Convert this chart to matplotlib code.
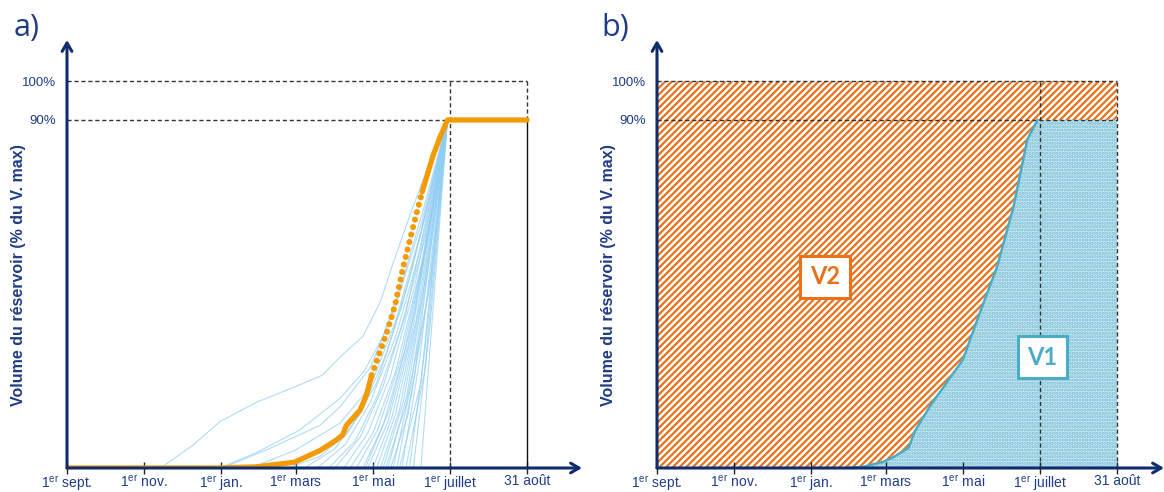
import matplotlib
matplotlib.use("Agg")
import matplotlib.pyplot as plt
import numpy as np

plt.rcParams['font.family'] = ['Liberation Sans', 'DejaVu Sans']
plt.rcParams['mathtext.fontset'] = 'custom'
plt.rcParams['mathtext.rm'] = 'Liberation Sans'
plt.rcParams['hatch.linewidth'] = 1.6

# ---------------- data ----------------
tick_days = [0, 61, 122, 181, 242, 303, 364]
tick_labels = ['1$^{\\mathrm{er}}$ sept.', '1$^{\\mathrm{er}}$ nov.', '1$^{\\mathrm{er}}$ jan.',
               '1$^{\\mathrm{er}}$ mars', '1$^{\\mathrm{er}}$ mai', '1$^{\\mathrm{er}}$ juillet', '31 août']
y_ticks = [90, 100]
y_tick_labels = ['90%', '100%']

# orange reference curve, panel a (day since 1 Sept, % of V max)
orange_days = [0, 120, 150, 180, 200, 212, 218, 221, 225, 232, 237, 241, 247, 253, 259.5, 266, 274, 281, 289.5, 295, 301, 364]
orange_pct = [0, 0, 0.3, 1.5, 4.5, 7, 8.5, 11, 12.5, 15, 19, 24, 29.5, 35, 42, 52, 62.6, 71.4, 80.7, 85.5, 90, 90]
orange_dot_start = 241
orange_dot_end = 281

# blue individual-year curves, panel a
blue_days = [
    [74, 100, 121, 150, 184, 202, 216, 234, 248, 258, 272, 287, 301],
    [121, 150, 184, 216, 235, 250, 265, 282, 301],
    [123, 160, 200, 216, 240, 260, 281, 301],
    [145, 180, 216, 240, 260, 280, 301],
    [175, 200, 222, 245, 265, 285, 301],
    [188, 212, 232, 252, 272, 301],
    [198, 220, 240, 260, 280, 301],
    [207, 228, 246, 264, 283, 301],
    [212, 232, 250, 268, 301],
    [219, 238, 256, 275, 301],
    [224, 242, 260, 280, 301],
    [229, 246, 264, 283, 301],
    [234, 250, 267, 285, 301],
    [238, 254, 270, 301],
    [242, 257, 273, 301],
    [245, 260, 276, 301],
    [248, 263, 279, 301],
    [250, 266, 282, 301],
    [254, 269, 284, 301],
    [258, 272, 287, 301],
    [261, 275, 289, 301],
    [265, 279, 292, 301],
    [271, 284, 301],
    [274, 287, 301],
    [280, 301],
    [236, 255, 275, 301],
    [252, 268, 286, 301],
    [256, 270, 288, 301],
    [263, 280, 301],
    [268, 283, 301],
]
blue_pct = [
    [0, 6, 12, 17, 21.5, 24, 28.7, 34, 43, 53, 66, 79, 90],
    [0, 4, 9.8, 18, 25, 34, 48, 67, 90],
    [0, 5, 11, 15.8, 26, 42, 64, 90],
    [0, 4.5, 11.6, 21, 38, 61, 90],
    [0, 3, 9, 22, 42, 67, 90],
    [0, 5, 14, 29, 50, 90],
    [0, 6, 17, 34, 57, 90],
    [0, 7, 19, 36, 59, 90],
    [0, 8, 21, 40, 90],
    [0, 9, 24, 47, 90],
    [0, 9, 25, 52, 90],
    [0, 10, 28, 56, 90],
    [0, 11, 30, 59, 90],
    [0, 12, 32, 90],
    [0, 13, 35, 90],
    [0, 14, 38, 90],
    [0, 15, 42, 90],
    [0, 17, 46, 90],
    [0, 19, 50, 90],
    [0, 21, 55, 90],
    [0, 24, 60, 90],
    [0, 28, 65, 90],
    [0, 33, 90],
    [0, 36, 90],
    [0, 90],
    [0, 15, 40, 90],
    [0, 16, 45, 90],
    [0, 14, 50, 90],
    [0, 22, 90],
    [0, 25, 90],
]

# panel b curve
b_days = [0, 150, 163, 179, 187, 199, 204, 216, 229, 242, 253, 269, 282, 293, 301, 364]
b_pct = [0, 0, 0.3, 1.6, 2.8, 5.2, 9.5, 16, 22, 28, 38, 52, 67.5, 85, 90, 90]

day_converge = 301
day_juillet = 303
day_end = 364

# ---------------- style ----------------
navy = '#0f2c6e'
text_navy = '#1f3c88'
orange = '#f29b05'
orange_b = '#e8711a'
blue_b = '#4bacc6'
blue_thin = '#8fcdf2'

fig = plt.figure(figsize=(11.64, 4.92), dpi=100)
W, H = 1164, 492
px_per_day = 1.264
px_per_pct = 3.867
y0_px = 468
top_px = 40


def make_ax(x0_px, x1_px):
    ax = fig.add_axes([x0_px / W, (H - y0_px) / H, (x1_px - x0_px) / W, (y0_px - top_px) / H])
    ax.set_xlim(0, (x1_px - x0_px) / px_per_day)
    ax.set_ylim(0, (y0_px - top_px) / px_per_pct)
    for s in ax.spines.values():
        s.set_visible(False)
    ax.set_facecolor('none')
    ax.set_xticks(tick_days)
    ax.set_xticklabels(tick_labels, fontsize=10, color=text_navy)
    ax.tick_params(axis='x', direction='inout', length=8, width=1, color='#222222', pad=0.5)
    ax.set_yticks(y_ticks)
    ax.set_yticklabels(y_tick_labels, fontsize=9.5, color=text_navy)
    ax.tick_params(axis='y', length=0, pad=8)
    # axis arrows
    ax.annotate('', xy=(1.0, 0), xytext=(0, 0), xycoords='axes fraction',
                arrowprops=dict(arrowstyle='->,head_length=0.6,head_width=0.35', color=navy, lw=2.2,
                                shrinkA=0, shrinkB=0), zorder=5)
    ax.annotate('', xy=(0, 1.0), xytext=(0, 0), xycoords='axes fraction',
                arrowprops=dict(arrowstyle='->,head_length=0.6,head_width=0.35', color=navy, lw=2.2,
                                shrinkA=0, shrinkB=0), zorder=5)
    return ax


def ylabel(x_px):
    fig.text(x_px / W, 1 - 275 / H, 'Volume du réservoir (% du V. max)', rotation=90,
             fontsize=11.5, fontweight='bold', color=text_navy, ha='center', va='center')


# ---------------- panel a ----------------
axa = make_ax(67, 582)
for d, p in zip(blue_days, blue_pct):
    axa.plot(d, p, color=blue_thin, lw=0.8, alpha=0.7, zorder=2)

dash_kw = dict(color='#333333', lw=1.0, ls=(0, (3, 2)), zorder=3)
axa.plot([0, day_end], [100, 100], **dash_kw)
axa.plot([0, day_converge], [90, 90], **dash_kw)
axa.plot([day_juillet, day_juillet], [0, 100], **dash_kw)
axa.plot([day_end, day_end], [90, 100], **dash_kw)
axa.plot([day_end, day_end], [0, 90], color='#111111', lw=1.0, zorder=3)
axa.plot([0, day_juillet], [0, 0], **dash_kw)

od = np.array(orange_days)
op = np.array(orange_pct)
m1 = od <= orange_dot_start
m2 = (od >= orange_dot_start) & (od <= orange_dot_end)
m3 = od >= orange_dot_end
axa.plot(od[m1], op[m1], color=orange, lw=3.8, solid_capstyle='round', solid_joinstyle='round', zorder=4)
axa.plot(od[m2], op[m2], color=orange, lw=4.4, ls=(0, (0.01, 1.25)), dash_capstyle='round', zorder=4)
axa.plot(od[m3], op[m3], color=orange, lw=3.8, solid_capstyle='round', solid_joinstyle='round', zorder=4)

fig.text(14 / W, 1 - 28 / H, 'a)', fontsize=22, color=text_navy, va='center', ha='left',
         family=['Open Sans', 'DejaVu Sans'])
ylabel(19)

# ---------------- panel b ----------------
axb = make_ax(657, 1164)
bd = np.array(b_days)
bp = np.array(b_pct)
axb.fill_between(bd, bp, 100, facecolor='white', edgecolor=orange_b, hatch='/////', lw=0, zorder=1)
axb.fill_between(bd, 0, bp, facecolor='#cfeaf3', edgecolor='#74bdd4', hatch='.....', lw=0, zorder=1)
mb = (bd >= 140) & (bd <= day_converge)
axb.plot(bd[mb], bp[mb], color=blue_b, lw=1.8, zorder=4)

axb.plot([0, day_end], [100, 100], **dash_kw)
axb.plot([0, day_end], [90, 90], **dash_kw)
axb.plot([day_juillet, day_juillet], [0, 100], **dash_kw)
axb.plot([day_end, day_end], [0, 100], **dash_kw)

axb.text(133, 49.4, 'V2', fontsize=17, fontweight='bold', color=orange_b, ha='center', va='center',
         family=['Lato', 'DejaVu Sans'], zorder=6,
         bbox=dict(boxstyle='square,pad=0.42', facecolor='white', edgecolor=orange_b, lw=2.2))
axb.text(305, 28.7, 'V1', fontsize=17, fontweight='bold', color=blue_b, ha='center', va='center',
         family=['Lato', 'DejaVu Sans'], zorder=6,
         bbox=dict(boxstyle='square,pad=0.42', facecolor='white', edgecolor=blue_b, lw=2.2))

fig.text(601 / W, 1 - 28 / H, 'b)', fontsize=22, color=text_navy, va='center', ha='left',
         family=['Open Sans', 'DejaVu Sans'])
ylabel(609)

fig.savefig('out.png', dpi=100)
